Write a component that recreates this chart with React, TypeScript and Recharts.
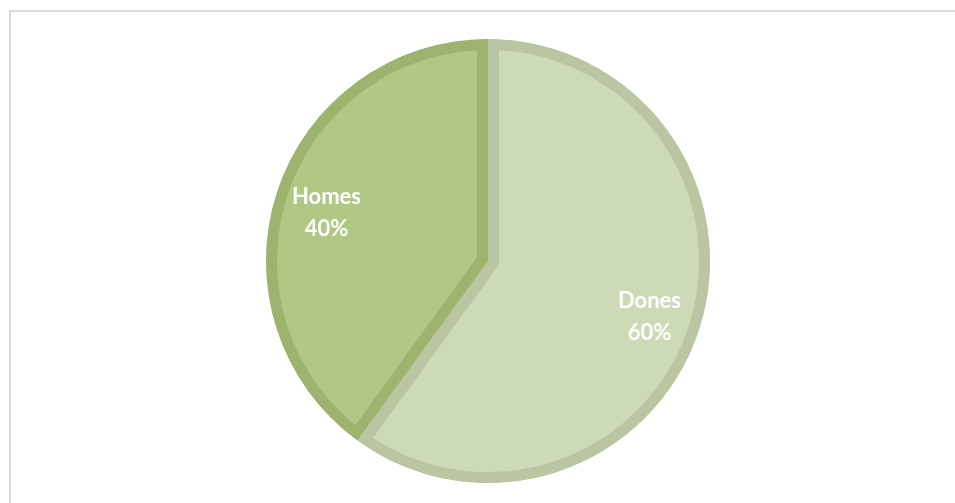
import { PieChart, Pie, Cell, Sector } from "recharts";

const categories = ["Dones", "Homes"];
const shares = [60, 40];
const fills = ["#cddab6", "#b1c784"];
const borders = ["#b9c6a1", "#9db36e"];

const data = categories.map((name, i) => ({ name, value: shares[i] }));

const RADIAN = Math.PI / 180;

// Excel-style border: stroke drawn only inside the slice
function InsetSector(props: any) {
  const { cx, cy, innerRadius, outerRadius, startAngle, endAngle, fill, stroke } = props;
  const id = `clip-${Math.round(startAngle * 10)}-${Math.round(endAngle * 10)}`;
  const geo = { cx, cy, innerRadius, outerRadius, startAngle, endAngle };
  return (
    <g>
      <defs>
        <clipPath id={id}>
          <Sector {...geo} />
        </clipPath>
      </defs>
      <Sector
        {...geo}
        fill={fill}
        stroke={stroke}
        strokeWidth={22}
        clipPath={`url(#${id})`}
      />
    </g>
  );
}

function renderLabel(props: any) {
  const { cx, cy, midAngle, outerRadius, name, percent } = props;
  const r = outerRadius * 0.765;
  const x = cx + r * Math.cos(-midAngle * RADIAN);
  const y = cy + r * Math.sin(-midAngle * RADIAN);
  return (
    <text
      x={x}
      y={y}
      fill="#ffffff"
      textAnchor="middle"
      fontFamily="Lato, 'Open Sans', sans-serif"
      fontWeight={700}
      fontSize={22}
    >
      <tspan x={x} dy={-5}>
        {name}
      </tspan>
      <tspan x={x} dy={32}>
        {`${Math.round(percent * 100)}%`}
      </tspan>
    </text>
  );
}

export default function App() {
  return (
    <div style={{ position: "relative", width: 947, height: 487 }}>
      <div
        style={{
          position: "fixed",
          left: 9,
          top: 10,
          width: 944,
          height: 491,
          borderTop: "2px solid #dadada",
          borderLeft: "2px solid #dadada",
        }}
      />
      <div style={{ position: "absolute", left: 0, top: 0 }}>
        <PieChart width={947} height={487}>
          <Pie
            data={data}
            dataKey="value"
            nameKey="name"
            cx={475}
            cy={248}
            innerRadius={0}
            outerRadius={222}
            startAngle={90}
            endAngle={-270}
            shape={InsetSector}
            label={renderLabel}
            labelLine={false}
            isAnimationActive={false}
          >
            {data.map((d, i) => (
              <Cell key={d.name} fill={fills[i]} stroke={borders[i]} />
            ))}
          </Pie>
        </PieChart>
      </div>
    </div>
  );
}
